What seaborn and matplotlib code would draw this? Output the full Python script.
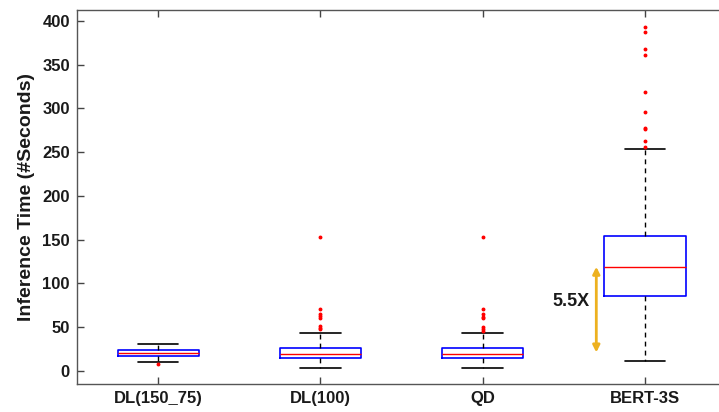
import matplotlib
matplotlib.use("Agg")
import numpy as np
import seaborn as sns
from matplotlib import pyplot as plt

# box statistics (seconds)
methods = ["DL(150_75)", "DL(100)", "QD", "BERT-3S"]
q1 = [17.1, 14.5, 14.9, 86.1]
median = [20.2, 19.8, 19.4, 118.9]
q3 = [23.7, 26.6, 26.7, 153.9]
whis_lo = [9.9, 3.4, 3.8, 11.8]
whis_hi = [30.5, 43.4, 43.4, 254.1]
fliers = [
    [8.3],
    [153.0, 71.2, 65.0, 62.9, 60.2, 51.0, 49.0, 47.6],
    [153.0, 70.9, 64.8, 62.0, 60.2, 50.7, 48.4, 46.0],
    [393.5, 387.0, 367.6, 361.0, 318.9, 296.4, 278.0, 276.6, 263.2, 256.3],
]
speedup_label = "5.5X"
speedup_from = 119.0
speedup_to = 21.0

sns.set_style("ticks")
plt.rcParams['font.family'] = ['Liberation Sans', 'DejaVu Sans']
plt.rcParams['font.weight'] = 'bold'
plt.rcParams['text.color'] = '#1a1a1a'
plt.rcParams['axes.labelcolor'] = '#1a1a1a'
plt.rcParams['xtick.labelcolor'] = '#1a1a1a'
plt.rcParams['ytick.labelcolor'] = '#1a1a1a'

fig = plt.figure(figsize=(7.19, 4.12), dpi=100)
ax = fig.add_axes([0.107, 0.068, 0.893, 0.908])

stats = []
for i in range(len(methods)):
    stats.append(dict(label=methods[i], q1=q1[i], med=median[i], q3=q3[i],
                      whislo=whis_lo[i], whishi=whis_hi[i], fliers=fliers[i]))

ax.bxp(stats, positions=np.arange(1, len(methods) + 1), widths=0.5,
       boxprops=dict(color='blue', lw=1.2),
       medianprops=dict(color='red', lw=1.0),
       whiskerprops=dict(color='black', lw=1.0, ls=(0, (3.5, 3))),
       capprops=dict(color='black', lw=1.2),
       flierprops=dict(marker='o', markersize=1.8, markerfacecolor='red',
                       markeredgecolor='red', ls='none'),
       capwidths=0.25)

ax.annotate('', xy=(3.70, speedup_to), xytext=(3.70, speedup_from),
            arrowprops=dict(arrowstyle='<|-|>', color='#EDB120', lw=2,
                            mutation_scale=10, shrinkA=0, shrinkB=0))
ax.text(3.545, 79, speedup_label, fontsize=13, fontweight='bold',
        ha='center', va='center')

ax.set_xlim(0.5, 4.456)
ax.set_ylim(-15, 412.6)
ax.set_yticks(np.arange(0, 401, 50))
ax.set_ylabel('Inference Time (#Seconds)', fontsize=14, fontweight='bold',
              labelpad=5)
ax.tick_params(direction='in', length=5, width=1, color='#444444',
               labelsize=12, top=True, right=False, pad=5)
for lbl in ax.get_xticklabels() + ax.get_yticklabels():
    lbl.set_fontweight('bold')
for s in ['left', 'bottom', 'top']:
    ax.spines[s].set_color('#555555')
    ax.spines[s].set_linewidth(1)
ax.spines['right'].set_visible(False)

fig.savefig('out.png', dpi=100)
